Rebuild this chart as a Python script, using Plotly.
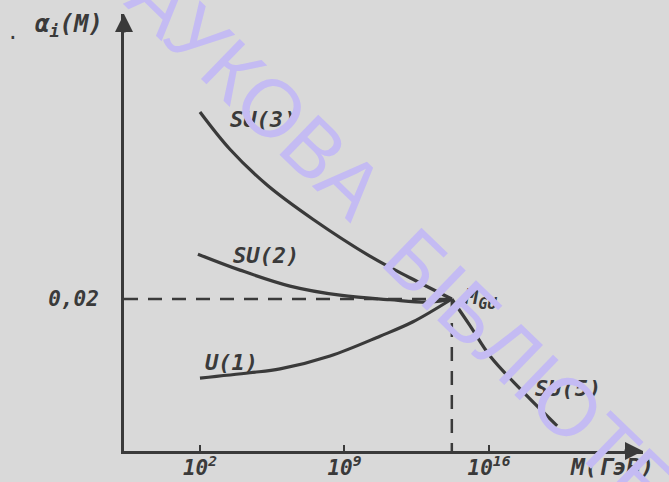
import plotly.graph_objects as go

# ---- data (x = log10 M in GeV, y = alpha_i) ----
su3_x = [2.0, 3.45, 5.25, 7.47, 10.38, 12.17, 14.2]
su3_y = [0.0446, 0.0397, 0.0350, 0.0305, 0.0254, 0.0228, 0.0200]

su2_x = [1.9, 3.94, 6.36, 8.78, 11.2, 13.14, 14.2]
su2_y = [0.0259, 0.0238, 0.0217, 0.0205, 0.0199, 0.0196, 0.0200]

u1_x = [2.0, 4.42, 5.88, 8.30, 10.72, 12.32, 14.2]
u1_y = [0.0096, 0.0103, 0.0108, 0.0125, 0.0151, 0.0170, 0.0200]

su5_x = [14.2, 15.08, 16.05, 17.5, 19.3]
su5_y = [0.0200, 0.0165, 0.0125, 0.0082, 0.0033]

m_gu = 14.2
alpha_gu = 0.02

x_ticks = [2, 9, 16]
x_ticktext = ["10<sup>2</sup>", "10<sup>9</sup>", "10<sup>16</sup>"]
y_ticks = [0.02]
y_ticktext = ["0,02"]

curve_labels = ["SU(3)", "SU(2)", "U(1)", "SU(5)"]
label_x = [5.05, 5.20, 3.55, 19.83]
label_y = [0.0436, 0.0257, 0.0116, 0.0082]

X_RANGE = [-1.68, 23.46]
Y_RANGE = [0.0, 0.0575]

INK = "#3a3a3a"
BG = "#d9d9d9"
HAND = dict(family="DejaVu Sans Mono", color=INK, style="italic", weight="bold")

fig = go.Figure()
for xs, ys in [(su3_x, su3_y), (su2_x, su2_y), (u1_x, u1_y), (su5_x, su5_y)]:
    fig.add_trace(go.Scatter(x=xs, y=ys, mode="lines",
                             line=dict(color=INK, width=3.2, shape="spline", smoothing=1.0),
                             showlegend=False, hoverinfo="skip"))

# dashed guide lines to M_GU
fig.add_trace(go.Scatter(x=[X_RANGE[0], m_gu], y=[alpha_gu, alpha_gu], mode="lines",
                         line=dict(color=INK, width=2.5, dash="14px,10px"),
                         showlegend=False, hoverinfo="skip"))
fig.add_trace(go.Scatter(x=[m_gu, m_gu], y=[alpha_gu, 0], mode="lines",
                         line=dict(color=INK, width=2.5, dash="14px,10px"),
                         showlegend=False, hoverinfo="skip"))

for t, lx, ly in zip(curve_labels, label_x, label_y):
    fig.add_annotation(x=lx, y=ly, text=t, showarrow=False,
                       xanchor="center", yanchor="middle",
                       font=dict(size=22, **HAND))

fig.add_annotation(x=14.69, y=0.0201, text="M<sub>GU</sub>", showarrow=False,
                   xanchor="left", yanchor="middle", font=dict(size=22, **HAND))

# axis titles
fig.add_annotation(xref="paper", yref="paper", x=-0.106, y=0.9748,
                   xanchor="center", yanchor="middle",
                   text="α<sub>i</sub>(M)", showarrow=False, font=dict(size=24, **HAND))
fig.add_annotation(xref="paper", yref="paper", x=-0.214, y=0.962,
                   xanchor="center", yanchor="middle",
                   text=".", showarrow=False, font=dict(size=24, family="DejaVu Sans", color=INK))
fig.add_annotation(xref="paper", yref="paper", x=0.9403, y=-0.0366,
                   xanchor="center", yanchor="middle",
                   text="M(ГэВ)", showarrow=False, font=dict(size=23, **HAND))

# arrow heads
fig.add_annotation(xref="paper", yref="paper", x=1.0, y=0.0, ax=-20, ay=0,
                   showarrow=True, arrowhead=2, arrowsize=1.2, arrowwidth=3,
                   arrowcolor=INK, text="")
fig.add_annotation(xref="paper", yref="paper", x=0.0, y=1.0, ax=0, ay=20,
                   showarrow=True, arrowhead=2, arrowsize=1.2, arrowwidth=3,
                   arrowcolor=INK, text="")

# library watermark
WM = dict(family="Liberation Sans", size=81, color="#c4bbf3")
fig.add_annotation(xref="paper", yref="paper", x=0.2142, y=0.866, text="НАУКОВА",
                   xanchor="center", yanchor="middle",
                   showarrow=False, textangle=44, font=WM)
fig.add_annotation(xref="paper", yref="paper", x=0.8536, y=0.10, text="БІБЛІОТЕКА",
                   xanchor="center", yanchor="middle",
                   showarrow=False, textangle=44, font=WM)

fig.update_xaxes(range=X_RANGE, showgrid=False, zeroline=False, automargin=False,
                 showline=True, linewidth=3, linecolor=INK,
                 tickvals=x_ticks, ticktext=x_ticktext, ticks="inside",
                 ticklen=6, tickwidth=2, tickcolor=INK, ticklabelstandoff=-4,
                 tickfont=dict(size=21, **HAND))
fig.update_yaxes(range=Y_RANGE, showgrid=False, zeroline=False, automargin=False,
                 showline=True, linewidth=3, linecolor=INK,
                 tickvals=y_ticks, ticktext=y_ticktext, ticks="",
                 ticklabelstandoff=18, tickfont=dict(size=21, **HAND))

fig.update_layout(width=669, height=482,
                  margin=dict(l=124, r=26, t=14, b=31, pad=0, autoexpand=False),
                  paper_bgcolor=BG, plot_bgcolor=BG)

fig.write_html("out.html", config={"displayModeBar": False},
               post_script="document.body.style.margin='0';document.body.style.overflow='hidden';")
